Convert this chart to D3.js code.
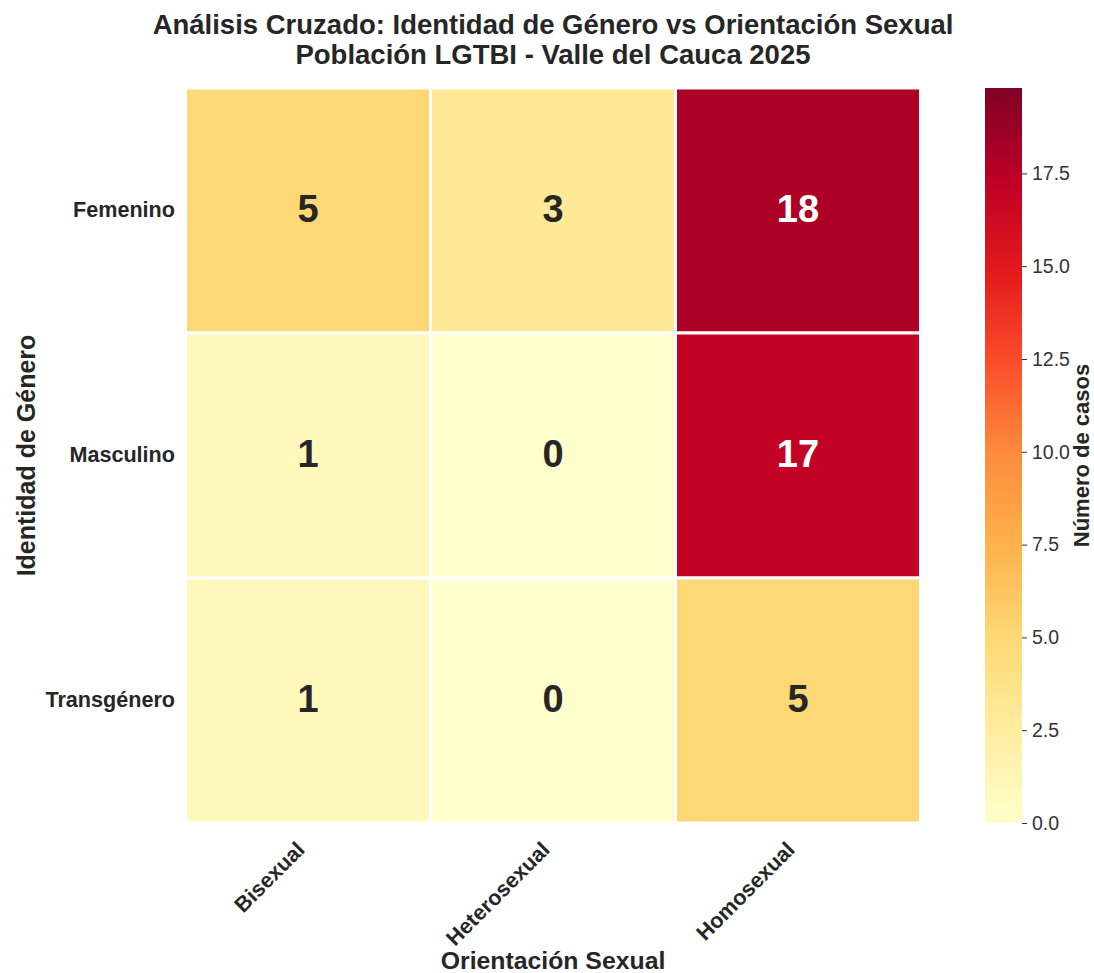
<!DOCTYPE html>
<html>
<head>
<meta charset="utf-8">
<script src="https://cdn.jsdelivr.net/npm/d3@7/dist/d3.min.js"></script>
<style>
  html, body { margin: 0; padding: 0; background: #ffffff; }
  svg { display: block; }
  text { font-family: "Liberation Sans", Arial, Helvetica, sans-serif; }
</style>
</head>
<body>
<svg id="chart" width="1094" height="973"></svg>
<script>
// ---- Data ----
const genders = ["Femenino", "Masculino", "Transgénero"];
const orientations = ["Bisexual", "Heterosexual", "Homosexual"];
const countsFemenino = [5, 3, 18];
const countsMasculino = [1, 0, 17];
const countsTransgenero = [1, 0, 5];
const colorMax = 19.8;
const colorbarTicks = [0, 2.5, 5, 7.5, 10, 12.5, 15, 17.5];
const titleLines = ["Análisis Cruzado: Identidad de Género vs Orientación Sexual",
                    "Población LGTBI - Valle del Cauca 2025"];
const xTitle = "Orientación Sexual";
const yTitle = "Identidad de Género";
const cbTitle = "Número de casos";
const ylorrd = ["#ffffcc","#ffeda0","#fed976","#feb24c","#fd8d3c","#fc4e2a","#e31a1c","#bd0026","#800026"];

const matrix = [countsFemenino, countsMasculino, countsTransgenero];
const cells = [];
matrix.forEach((row, i) => row.forEach((v, j) => cells.push({g: genders[i], o: orientations[j], v})));

// ---- Layout ----
const svg = d3.select("#chart");
const X0 = 185.5, X1 = 920.5, Y0 = 88, Y1 = 823;
const CB0 = 985, CB1 = 1022;

const x = d3.scaleBand().domain(orientations).range([X0, X1]);
const y = d3.scaleBand().domain(genders).range([Y0, Y1]);
const color = d3.scaleLinear()
  .domain(ylorrd.map((c, i) => i / (ylorrd.length - 1) * colorMax))
  .range(ylorrd)
  .interpolate(d3.interpolateRgb)
  .clamp(true);

const textDark = "#262626";

// Title
svg.append("g").selectAll("text").data(titleLines).join("text")
  .attr("x", (X0 + X1) / 2)
  .attr("y", (d, i) => 34 + i * 30)
  .attr("text-anchor", "middle")
  .attr("font-size", 27.5)
  .attr("font-weight", "bold")
  .attr("fill", textDark)
  .text(d => d);

// Cells
svg.append("g").selectAll("rect").data(cells).join("rect")
  .attr("x", d => x(d.o))
  .attr("y", d => y(d.g))
  .attr("width", x.bandwidth())
  .attr("height", y.bandwidth())
  .attr("fill", d => color(d.v))
  .attr("stroke", "#ffffff")
  .attr("stroke-width", 3);

// Annotations
svg.append("g").selectAll("text").data(cells).join("text")
  .attr("x", d => x(d.o) + x.bandwidth() / 2)
  .attr("y", d => y(d.g) + y.bandwidth() / 2 + 11.5)
  .attr("text-anchor", "middle")
  .attr("font-size", 38)
  .attr("font-weight", "bold")
  .attr("fill", d => (d.v / colorMax > 0.6 ? "#ffffff" : textDark))
  .text(d => d.v);

// Y tick labels
svg.append("g").selectAll("text").data(genders).join("text")
  .attr("x", 175)
  .attr("y", d => y(d) + y.bandwidth() / 2 + 6.5)
  .attr("text-anchor", "end")
  .attr("font-size", 21.6)
  .attr("font-weight", "bold")
  .attr("fill", textDark)
  .text(d => d);

// X tick labels (rotated 45)
svg.append("g").selectAll("text").data(orientations).join("text")
  .attr("transform", d => `translate(${x(d) + x.bandwidth() / 2 - 13},${840}) rotate(-45)`)
  .attr("text-anchor", "end")
  .attr("dy", "0.72em")
  .attr("font-size", 21.6)
  .attr("font-weight", "bold")
  .attr("fill", textDark)
  .text(d => d);

// Axis titles
svg.append("text")
  .attr("x", (X0 + X1) / 2)
  .attr("y", 969)
  .attr("text-anchor", "middle")
  .attr("font-size", 24.8)
  .attr("font-weight", "bold")
  .attr("fill", textDark)
  .text(xTitle);

svg.append("text")
  .attr("transform", `translate(35,${(Y0 + Y1) / 2}) rotate(-90)`)
  .attr("text-anchor", "middle")
  .attr("font-size", 25)
  .attr("font-weight", "bold")
  .attr("fill", textDark)
  .text(yTitle);

// Colorbar
const defs = svg.append("defs");
const grad = defs.append("linearGradient")
  .attr("id", "cbgrad")
  .attr("x1", "0%").attr("y1", "100%").attr("x2", "0%").attr("y2", "0%");
grad.selectAll("stop").data(d3.range(0, 101)).join("stop")
  .attr("offset", d => d + "%")
  .attr("stop-color", d => color(d / 100 * colorMax));

svg.append("rect")
  .attr("x", CB0).attr("y", Y0)
  .attr("width", CB1 - CB0).attr("height", Y1 - Y0)
  .attr("fill", "url(#cbgrad)");

const cbScale = d3.scaleLinear().domain([0, colorMax]).range([Y1, Y0]);
const cbAxis = svg.append("g")
  .attr("transform", `translate(${CB1},0)`)
  .call(d3.axisRight(cbScale).tickValues(colorbarTicks).tickFormat(d3.format(".1f")).tickSize(5).tickPadding(5));
cbAxis.select(".domain").remove();
cbAxis.selectAll(".tick line").attr("stroke", "#333333").attr("stroke-width", 1);
cbAxis.selectAll(".tick text")
  .attr("font-size", 19.5)
  .attr("fill", "#333333")
  .style("font-family", "'Liberation Sans', Arial, sans-serif");

svg.append("text")
  .attr("transform", `translate(1089,${(Y0 + Y1) / 2}) rotate(-90)`)
  .attr("text-anchor", "middle")
  .attr("font-size", 22)
  .attr("font-weight", "bold")
  .attr("fill", textDark)
  .text(cbTitle);
</script>
</body>
</html>
